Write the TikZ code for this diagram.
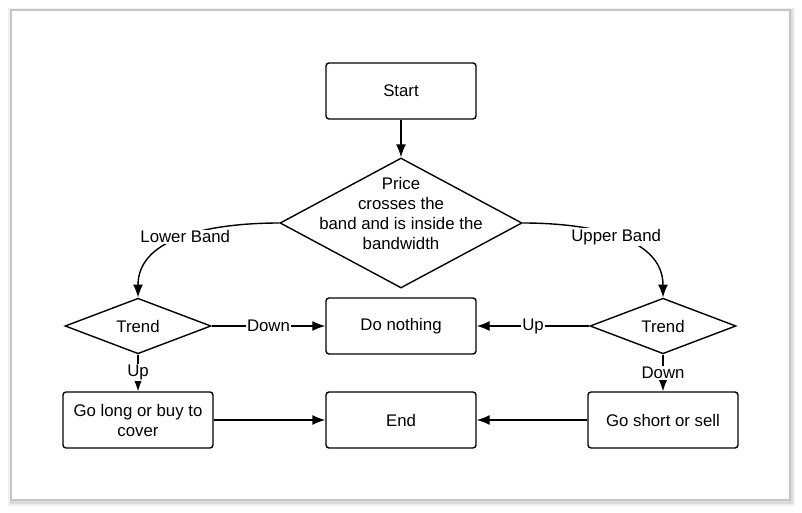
\documentclass[tikz,border=0pt]{standalone}
\usepackage{fontspec}
\setmainfont{Liberation Sans}
\usetikzlibrary{shapes.geometric, arrows.meta}

\tikzset{
	block/.style = {draw, rectangle, rounded corners=3pt, line width=1.4pt, minimum width=150pt, minimum height=56pt, align=center},
	decision/.style = {draw, diamond, line width=1.4pt, minimum width=146pt, minimum height=54pt, inner sep=0pt},
	flow/.style = {line width=1.4pt, -{Latex[length=13pt, width=10pt]}},
	tag/.style = {fill=white, inner sep=1pt},
}

\begin{document}
\begin{tikzpicture}[x=1pt, y=1pt, font=\fontsize{16.8}{20}\selectfont]
	\useasboundingbox (0,0) rectangle (802,512);
	\fill [gray!12] (8,6) rectangle (795,504);
	\fill [gray!28] (10,8) rectangle (793,503);
	\draw [gray!45, fill=white, line width=1.2pt] (11,12) rectangle (790,502);

	\node [block] (start) at (401,421) {Start};
	\node [decision, minimum width=242pt, minimum height=130pt, label={[align=center, yshift=10pt]center:Price\\crosses the\\band and is inside the\\bandwidth}] (cross) at (401,289) {};

	\node [decision] (trendL) at (138,186) {Trend};
	\node [block] (nothing) at (401,186) {Do nothing};
	\node [decision] (trendR) at (663,186) {Trend};

	\node [block] (golong) at (138,92) {Go long or buy to\\cover};
	\node [block] (end) at (401,92) {End};
	\node [block] (goshort) at (663,92) {Go short or sell};

	\draw [flow] (start) -- (cross);
	\draw [flow] (cross.west) to [out=180, in=90] node [tag] {Lower Band} (trendL.north);
	\draw [flow] (cross.east) to [out=0, in=90] node [tag] {Upper Band} (trendR.north);

	\draw [flow] (trendL.east) -- node [tag] {Down} (nothing.west);
	\draw [flow] (trendR.west) -- node [tag] {Up} (nothing.east);
	\draw [flow] (trendL.south) -- node [tag] {Up} (golong.north);
	\draw [flow] (trendR.south) -- node [tag] {Down} (goshort.north);

	\draw [flow] (golong.east) -- (end.west);
	\draw [flow] (goshort.west) -- (end.east);
\end{tikzpicture}
\end{document}
